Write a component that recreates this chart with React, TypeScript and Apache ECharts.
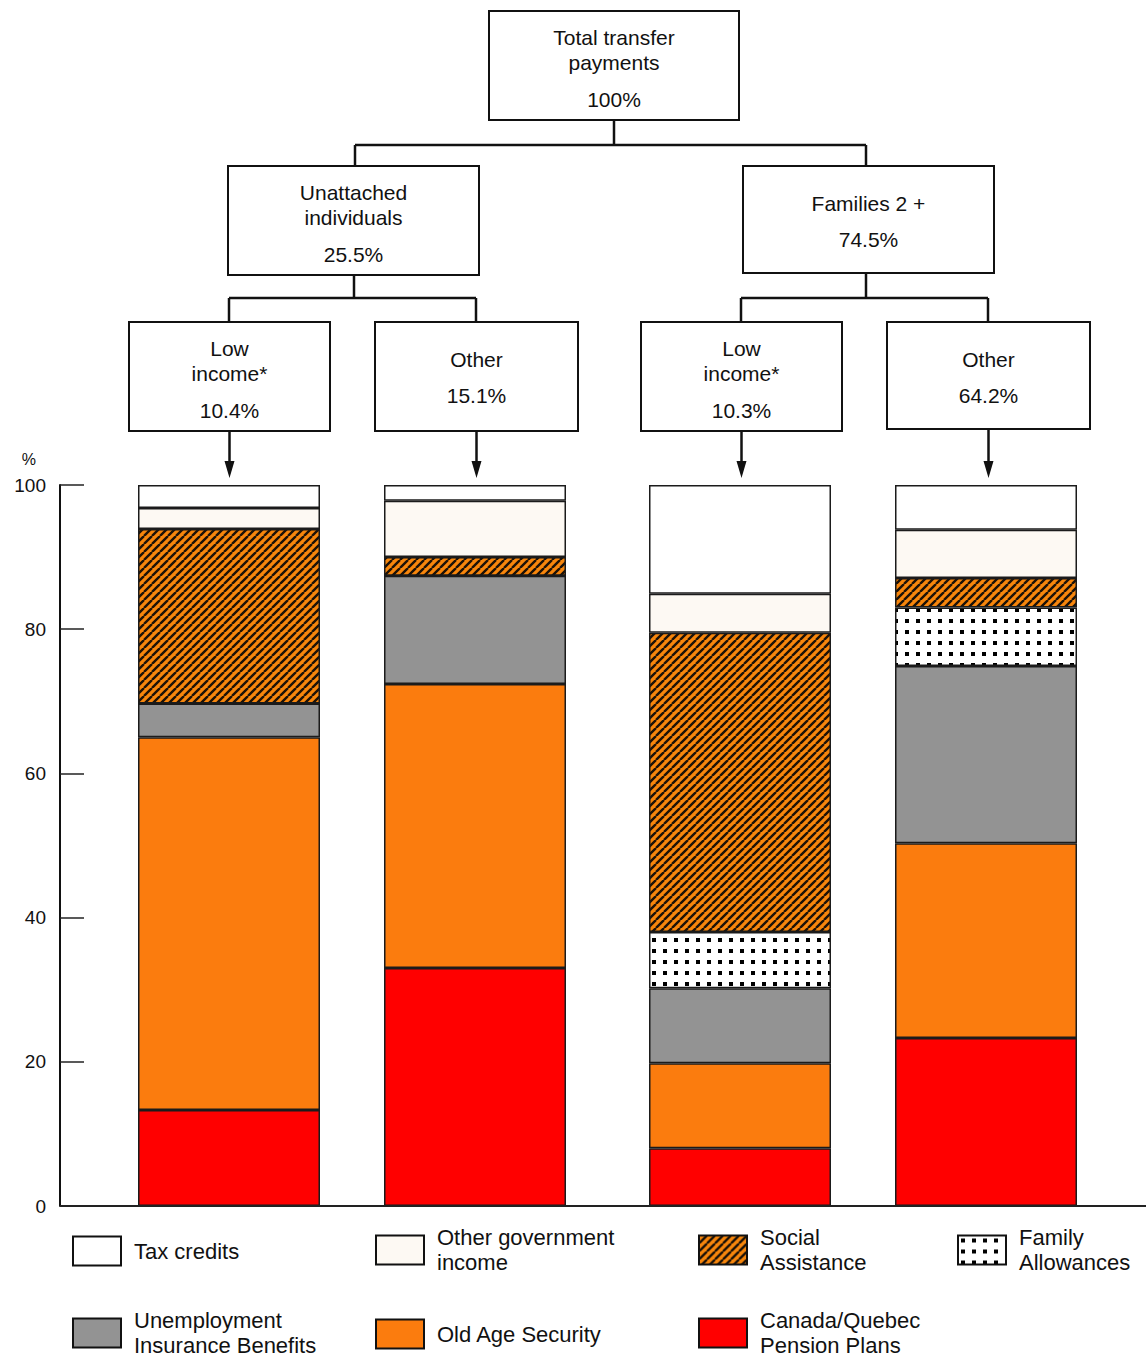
import React, { useEffect, useRef } from 'react';
import * as echarts from 'echarts';

// ---------- data ----------
const categories = ['Unattached low income', 'Unattached other', 'Families low income', 'Families other'];
const seriesNames = [
  'Canada/Quebec Pension Plans',
  'Old Age Security',
  'Unemployment Insurance Benefits',
  'Family Allowances',
  'Social Assistance',
  'Other government income',
  'Tax credits',
];
const cppValues = [13.3, 33.0, 8.0, 23.3];
const oasValues = [51.7, 39.4, 11.8, 27.0];
const uiValues = [4.7, 15.0, 10.4, 24.6];
const familyValues = [0, 0, 7.8, 8.1];
const socialValues = [24.2, 2.6, 41.5, 4.1];
const otherGovValues = [2.9, 7.8, 5.4, 6.7];
const taxValues = [3.2, 2.2, 15.1, 6.2];

const yTicks = [0, 20, 40, 60, 80, 100];

const legendOrder = [
  'Tax credits',
  'Other government income',
  'Social Assistance',
  'Family Allowances',
  'Unemployment Insurance Benefits',
  'Old Age Security',
  'Canada/Quebec Pension Plans',
];
const legendLabels = [
  'Tax credits',
  'Other government\nincome',
  'Social\nAssistance',
  'Family\nAllowances',
  'Unemployment\nInsurance Benefits',
  'Old Age Security',
  'Canada/Quebec\nPension Plans',
];

const treeTitles = ['Total transfer\npayments', 'Unattached\nindividuals', 'Families 2 +', 'Low\nincome*', 'Other', 'Low\nincome*', 'Other'];
const treeShares = ['100%', '25.5%', '74.5%', '10.4%', '15.1%', '10.3%', '64.2%'];

const FONT = '"Liberation Sans", Arial, Helvetica, sans-serif';

function hatchPattern() {
  const c = document.createElement('canvas');
  c.width = 8;
  c.height = 8;
  const ctx = c.getContext('2d')!;
  ctx.fillStyle = '#f7860c';
  ctx.fillRect(0, 0, 8, 8);
  ctx.strokeStyle = '#1d1208';
  ctx.lineWidth = 2.4;
  ctx.beginPath();
  for (const o of [-8, 0, 8]) {
    ctx.moveTo(o, 8);
    ctx.lineTo(o + 8, 0);
  }
  ctx.stroke();
  return c;
}

function dotPattern() {
  const c = document.createElement('canvas');
  c.width = 11;
  c.height = 11;
  const ctx = c.getContext('2d')!;
  ctx.fillStyle = '#ffffff';
  ctx.fillRect(0, 0, 11, 11);
  ctx.fillStyle = '#000000';
  ctx.fillRect(3, 3, 4, 4);
  return c;
}

export default function App() {
  const ref = useRef<HTMLDivElement>(null);

  useEffect(() => {
    if (!ref.current) return;
    const chart = echarts.init(ref.current, undefined, { renderer: 'svg' });

    const fills: any[] = [
      '#ff0000',
      '#fb7c0e',
      '#939393',
      { image: dotPattern(), repeat: 'repeat' },
      { image: hatchPattern(), repeat: 'repeat' },
      '#fdf9f3',
      '#ffffff',
    ];
    const valueArrays = [cppValues, oasValues, uiValues, familyValues, socialValues, otherGovValues, taxValues];

    const series: any[] = [];
    [0, 1].forEach((g) => {
      seriesNames.forEach((name, i) => {
        series.push({
          type: 'bar',
          name,
          stack: 'grp' + g,
          xAxisIndex: g,
          yAxisIndex: g,
          barWidth: 182,
          data: valueArrays[i].slice(g * 2, g * 2 + 2),
          itemStyle: { color: fills[i], borderColor: '#1b1b1b', borderWidth: 1.5 },
          emphasis: { disabled: true },
        });
      });
    });

    // legends
    const cols = [72, 375, 698, 957];
    const rowCenters = [1250, 1333];
    const legends = legendOrder.map((name, i) => {
      const row = i < 4 ? 0 : 1;
      const col = i < 4 ? i : i - 4;
      const lines = legendLabels[i].split('\n').length;
      const h = Math.max(29, lines * 25);
      return {
        left: cols[col],
        top: rowCenters[row] - h / 2,
        padding: 0,
        orient: 'horizontal',
        selectedMode: false,
        icon: 'rect',
        itemWidth: 48,
        itemHeight: 29,
        data: [name],
        formatter: () => legendLabels[i],
        itemStyle: { borderColor: '#111', borderWidth: 2 },
        textStyle: { fontSize: 22, fontFamily: FONT, color: '#111', lineHeight: 25, padding: [0, 0, 0, 8] },
      };
    });

    // tree graphics
    const boxes = [
      { x: 489, y: 11, w: 250, h: 109 },
      { x: 228, y: 166, w: 251, h: 109 },
      { x: 743, y: 166, w: 251, h: 107 },
      { x: 129, y: 322, w: 201, h: 109 },
      { x: 375, y: 322, w: 203, h: 109 },
      { x: 641, y: 322, w: 201, h: 109 },
      { x: 887, y: 322, w: 203, h: 107 },
    ];
    const g: any[] = [];
    const lineStyle = { stroke: '#111', lineWidth: 2.5 };
    const seg = (x1: number, y1: number, x2: number, y2: number) =>
      g.push({ type: 'line', shape: { x1, y1, x2, y2 }, style: lineStyle });
    // connectors
    seg(614, 120, 614, 145);
    seg(355, 145, 866, 145);
    seg(355, 145, 355, 166);
    seg(866, 145, 866, 166);
    seg(354, 275, 354, 298);
    seg(229, 298, 476, 298);
    seg(229, 298, 229, 322);
    seg(476, 298, 476, 322);
    seg(866, 273, 866, 298);
    seg(741, 298, 988, 298);
    seg(741, 298, 741, 322);
    seg(988, 298, 988, 322);
    boxes.forEach((b, i) => {
      g.push({
        type: 'rect',
        shape: { x: b.x, y: b.y, width: b.w, height: b.h },
        style: { fill: '#fff', stroke: '#111', lineWidth: 2 },
      });
      const cx = b.x + b.w / 2;
      const multi = treeTitles[i].includes('\n');
      g.push({
        type: 'text',
        style: {
          text: treeTitles[i],
          x: cx,
          y: b.y + (multi ? 39 : 37),
          align: 'center',
          verticalAlign: 'middle',
          fontSize: 21,
          lineHeight: 25,
          fontFamily: FONT,
          fill: '#111',
        },
      });
      g.push({
        type: 'text',
        style: {
          text: treeShares[i],
          x: cx,
          y: b.y + (multi ? 88 : 73),
          align: 'center',
          verticalAlign: 'middle',
          fontSize: 21,
          fontFamily: FONT,
          fill: '#111',
        },
      });
      if (i >= 3) {
        seg(cx, b.y + b.h, cx, 468);
        g.push({
          type: 'polygon',
          shape: { points: [[cx - 5, 461], [cx + 5, 461], [cx, 478]] },
          style: { fill: '#111' },
        });
      }
    });
    // baseline
    g.push({ type: 'line', z: 100, shape: { x1: 60, y1: 1206, x2: 1146, y2: 1206 }, style: { stroke: '#222', lineWidth: 2 } });

    const xAxisCommon = {
      type: 'category',
      axisLine: { show: false },
      axisTick: { show: false },
      axisLabel: { show: false },
    };

    chart.setOption({
      animation: false,
      backgroundColor: '#ffffff',
      grid: [
        { left: 106, width: 492, top: 485, bottom: 152 },
        { left: 617, width: 492, top: 485, bottom: 152 },
      ],
      xAxis: [
        { ...xAxisCommon, gridIndex: 0, data: categories.slice(0, 2) },
        { ...xAxisCommon, gridIndex: 1, data: categories.slice(2, 4) },
      ],
      yAxis: [
        {
          type: 'value',
          gridIndex: 0,
          min: yTicks[0],
          max: yTicks[yTicks.length - 1],
          interval: 20,
          offset: 46,
          name: '%',
          nameLocation: 'end',
          nameGap: 18,
          nameTextStyle: { fontSize: 16, fontFamily: FONT, color: '#111', align: 'right', padding: [0, 24, 0, 0] },
          axisLine: { show: true, lineStyle: { color: '#111', width: 2 } },
          axisTick: { show: true, inside: true, length: 24, lineStyle: { color: '#222', width: 1.5 } },
          axisLabel: { fontSize: 19, fontFamily: FONT, color: '#111', margin: 14 },
          splitLine: { show: false },
        },
        { type: 'value', gridIndex: 1, min: 0, max: 100, show: false, splitLine: { show: false } },
      ],
      legend: legends,
      series,
      graphic: g,
    });

    return () => chart.dispose();
  }, []);

  return (
    <div
      ref={ref}
      style={{ position: 'absolute', left: 0, top: 0, width: 1146, height: 1358, background: '#fff' }}
    />
  );
}
